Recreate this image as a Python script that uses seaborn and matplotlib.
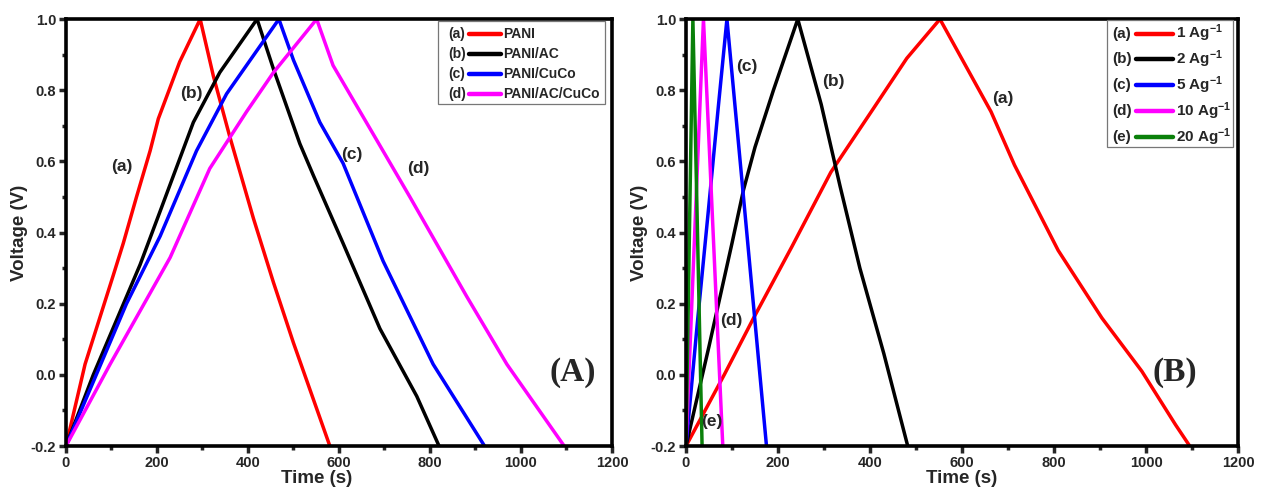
import numpy as np
import pandas as pd
import seaborn as sns
from matplotlib import pyplot as plt
from matplotlib.ticker import MultipleLocator, FormatStrFormatter

# Panel A: charge/discharge of the four electrodes
pani_t = [0, 42, 104, 126, 155, 185, 203, 250, 295, 324, 360, 412, 456, 500, 580]
pani_v = [-0.2, 0.03, 0.28, 0.37, 0.50, 0.63, 0.72, 0.88, 1.0, 0.84, 0.67, 0.44, 0.26, 0.09, -0.2]
pani_ac_t = [0, 60, 163, 207, 280, 338, 420, 456, 514, 544, 609, 690, 771, 820]
pani_ac_v = [-0.2, 0.0, 0.31, 0.46, 0.71, 0.85, 1.0, 0.86, 0.65, 0.56, 0.37, 0.13, -0.06, -0.2]
pani_cuco_t = [0, 133, 207, 287, 353, 468, 500, 558, 609, 697, 807, 920]
pani_cuco_v = [-0.2, 0.20, 0.39, 0.63, 0.79, 1.0, 0.885, 0.71, 0.595, 0.32, 0.03, -0.2]
pani_ac_cuco_t = [0, 97, 229, 316, 397, 456, 551, 587, 683, 756, 881, 969, 1095]
pani_ac_cuco_v = [-0.2, 0.03, 0.33, 0.58, 0.74, 0.85, 1.0, 0.87, 0.66, 0.50, 0.22, 0.03, -0.2]

# Panel B: PANI/AC/CuCo at different current densities
d1_t = [0, 83, 147, 230, 315, 408, 480, 552, 663, 714, 809, 904, 991, 1064, 1095]
d1_v = [-0.2, 0.0, 0.16, 0.36, 0.57, 0.75, 0.89, 1.0, 0.74, 0.59, 0.35, 0.16, 0.01, -0.14, -0.2]
d2_t = [0, 50, 100, 125, 150, 190, 243, 294, 335, 378, 430, 482]
d2_v = [-0.2, 0.08, 0.37, 0.52, 0.64, 0.80, 1.0, 0.76, 0.53, 0.30, 0.06, -0.2]
d5_t = [0, 25, 50, 70, 89, 130, 175]
d5_v = [-0.2, 0.15, 0.48, 0.75, 1.0, 0.43, -0.2]
d10_t = [0, 38, 80]
d10_v = [-0.2, 1.0, -0.2]
d20_t = [0, 15, 35]
d20_v = [-0.2, 1.0, -0.2]

names_a = ["PANI", "PANI/AC", "PANI/CuCo", "PANI/AC/CuCo"]
names_b = ["1 Ag$^{-1}$", "2 Ag$^{-1}$", "5 Ag$^{-1}$", "10 Ag$^{-1}$", "20 Ag$^{-1}$"]
tags = ["(a)", "(b)", "(c)", "(d)", "(e)"]
colors = ["#ff0000", "#000000", "#0000ff", "#ff00ff", "#0a800a"]


def make_df(names, ts, vs):
    parts = []
    for n, t, v in zip(names, ts, vs):
        parts.append(pd.DataFrame({"Series": n, "Time": t, "Voltage": v}))
    return pd.concat(parts, ignore_index=True)


def style_axis(ax):
    ax.set_xlim(0, 1200)
    ax.set_ylim(-0.2, 1.0)
    ax.xaxis.set_major_locator(MultipleLocator(200))
    ax.xaxis.set_minor_locator(MultipleLocator(100))
    ax.yaxis.set_major_locator(MultipleLocator(0.2))
    ax.yaxis.set_minor_locator(MultipleLocator(0.1))
    ax.yaxis.set_major_formatter(FormatStrFormatter("%.1f"))
    ax.tick_params(which="major", direction="out", length=5, width=2.5,
                   labelsize=10.5, bottom=True, left=True, top=False, right=False, pad=2)
    ax.tick_params(which="minor", direction="out", length=3, width=2.5,
                   bottom=True, left=True, top=False, right=False)
    for lab in ax.get_xticklabels() + ax.get_yticklabels():
        lab.set_fontweight("bold")
    for s in ax.spines.values():
        s.set_linewidth(2.6)
        s.set_color("black")
    ax.set_xlabel("Time (s)", fontsize=13.5, fontweight="bold", labelpad=1)
    ax.set_ylabel("Voltage (V)", fontsize=13.5, fontweight="bold", labelpad=2)


def draw_key(ax, names, box, rows, x_tag, x_line, x_lab, fs):
    # legend box with the (a) tags in front of the line keys
    x0, x1, y0, y1 = box
    ax.add_patch(plt.Rectangle((x0, y0), x1 - x0, y1 - y0, transform=ax.transAxes,
                               fill=True, facecolor="white", edgecolor="#777777",
                               linewidth=0.9, zorder=5))
    for i, n in enumerate(names):
        y = rows[i]
        ax.text(x_tag, y, tags[i], transform=ax.transAxes, fontsize=fs,
                fontweight="bold", va="center", ha="left", zorder=6)
        ax.plot(x_line, [y, y], transform=ax.transAxes, color=colors[i],
                linewidth=3.2, solid_capstyle="round", zorder=6)
        ax.text(x_lab, y, n, transform=ax.transAxes, fontsize=fs,
                fontweight="bold", va="center", ha="left", zorder=6)


def main():
    sns.set_style("white")
    plt.rcParams["font.family"] = ["Liberation Sans", "DejaVu Sans"]
    plt.rcParams["mathtext.fontset"] = "custom"
    plt.rcParams["mathtext.rm"] = "Liberation Sans:bold"
    plt.rcParams["mathtext.it"] = "Liberation Sans:bold"
    plt.rcParams["mathtext.bf"] = "Liberation Sans:bold"

    df_a = make_df(names_a, [pani_t, pani_ac_t, pani_cuco_t, pani_ac_cuco_t],
                   [pani_v, pani_ac_v, pani_cuco_v, pani_ac_cuco_v])
    df_b = make_df(names_b, [d1_t, d2_t, d5_t, d10_t, d20_t],
                   [d1_v, d2_v, d5_v, d10_v, d20_v])

    fig = plt.figure(figsize=(12.61, 5.04), dpi=100)
    ax1 = fig.add_axes([0.0523, 0.115, 0.433, 0.847])
    ax2 = fig.add_axes([0.544, 0.115, 0.4378, 0.847])

    sns.lineplot(data=df_a, x="Time", y="Voltage", hue="Series",
                 palette=colors[:4], hue_order=names_a, estimator=None,
                 sort=False, linewidth=2.5, legend=False, ax=ax1)
    sns.lineplot(data=df_b, x="Time", y="Voltage", hue="Series",
                 palette=colors, hue_order=names_b, estimator=None,
                 sort=False, linewidth=2.5, legend=False, ax=ax2)

    style_axis(ax1)
    style_axis(ax2)
    ax1.xaxis.set_label_coords(0.46, -0.055)
    ax2.xaxis.set_label_coords(0.5, -0.055)

    # curve tags, panel A
    for lab, x, y in [("(a)", 122, 0.585), ("(b)", 275, 0.79), ("(c)", 628, 0.62), ("(d)", 774, 0.58)]:
        ax1.text(x, y, lab, fontsize=12.5, fontweight="bold", ha="center", va="center")
    # curve tags, panel B
    for lab, x, y in [("(a)", 689, 0.777), ("(b)", 321, 0.826), ("(c)", 132, 0.867),
                      ("(d)", 98, 0.153), ("(e)", 57, -0.13)]:
        ax2.text(x, y, lab, fontsize=12.5, fontweight="bold", ha="center", va="center")

    ax1.text(1114, 0.008, "(A)", fontsize=24, fontweight="bold", ha="center", va="center",
             family=["Liberation Serif", "DejaVu Serif"])
    ax2.text(1063, 0.008, "(B)", fontsize=24, fontweight="bold", ha="center", va="center",
             family=["Liberation Serif", "DejaVu Serif"])

    draw_key(ax1, names_a, (0.681, 0.987, 0.801, 0.995), [0.965, 0.918, 0.871, 0.824],
             0.701, [0.738, 0.797], 0.800, 10)
    draw_key(ax2, names_b, (0.763, 0.991, 0.700, 0.998), [0.966, 0.906, 0.846, 0.785, 0.724],
             0.773, [0.816, 0.882], 0.887, 11)

    plt.savefig("out.png", dpi=100)


if __name__ == "__main__":
    main()
